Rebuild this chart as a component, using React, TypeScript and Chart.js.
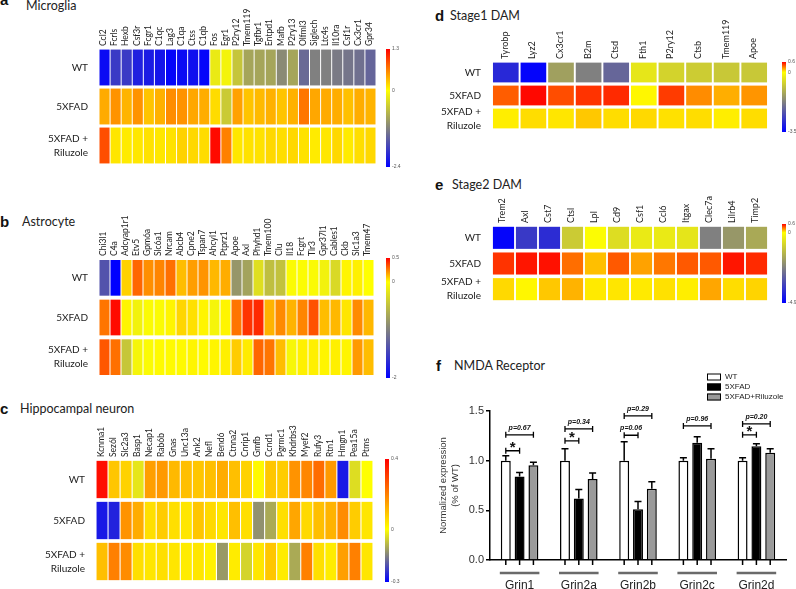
import React, { useEffect, useRef } from 'react';
import { Chart, registerables } from 'chart.js';

Chart.register(...registerables);

// ---------- shared ----------
const ROW_LABELS: (string | string[])[] = ['WT', '5XFAD', ['5XFAD +', 'Riluzole']];

// ---------- a: Microglia ----------
const MG_GENES = ['Ccl2', 'Fcrls', 'Hexb', 'Csf3r', 'Fcgr1', 'C1qc', 'Lag3', 'C1qa', 'Ctss', 'C1qb', 'Fos', 'Egr1', 'P2ry12', 'Tmem119', 'Tgfbr1', 'Entpd1', 'Mafb', 'P2ry13', 'Olfml3', 'Siglech', 'Ltc4s', 'Il10ra', 'Csf1r', 'Cx3cr1', 'Gpr34'];
const MG_WT = [-2.3, -1.85, -1.85, -2.1, -2.15, -2.2, -2.35, -2.3, -2.25, -2.35, -0.2, -0.1, -0.55, -0.85, -0.85, -0.85, -1.1, -0.85, -1.4, -1.2, -1.2, -1.25, -1.3, -1.35, -1.45];
const MG_FAD = [0.43, 0.55, 0.38, 0.55, 0.3, 0.4, 0.58, 0.55, 0.45, 0.42, 0.18, -0.5, 0.48, 0.3, 0.35, 0.4, 0.3, 0.4, 0.7, 0.45, 0.43, 0.42, 0.32, 0.42, 0.38];
const MG_RIL = [0.9, 0.13, 0.1, 0.12, 0.15, 0.12, 0.15, 0.23, 0.2, 0.18, 1.25, 0.65, 0.12, 0.15, 0.15, 0.2, 0.17, 0.2, 0.15, 0.1, 0.12, 0.2, 0.1, 0.17, 0.2];
const MG_RANGE = [-2.4, 1.3];

// ---------- b: Astrocyte ----------
const AS_GENES = ['Chi3l1', 'C4a', 'Adcyap1r1', 'Etv5', 'Gpm6a', 'Slc6a1', 'Nrcam', 'Abcb4', 'Cpne2', 'Tspan7', 'Ahcyl1', 'Ptprz1', 'Apoe', 'Axl', 'Phyhd1', 'Tmem100', 'Clu', 'Il18', 'Fcgrt', 'Tlr3', 'Gpr37l1', 'Cables1', 'Ckb', 'Slc1a3', 'Tmem47'];
const AS_WT = [-1.35, -2.0, 0.09, 0.3, 0.22, 0.24, 0.28, 0.13, 0.19, 0.21, 0.14, 0.16, -0.82, -0.72, -0.25, -0.5, -0.48, -0.03, -0.02, -0.04, -0.1, -0.3, 0.02, 0.03, 0.0];
const AS_FAD = [0.27, 0.48, 0.02, -0.1, -0.03, -0.03, 0.02, 0.08, 0.06, 0.02, -0.08, 0.02, 0.27, 0.4, 0.42, 0.15, 0.23, 0.15, 0.24, 0.34, 0.13, 0.14, 0.05, 0.23, 0.14];
const AS_RIL = [0.33, 0.28, -0.45, -0.08, -0.03, 0.01, 0.01, 0.01, 0.02, 0.01, 0.02, 0.03, 0.1, 0.04, 0.3, 0.27, 0.13, -0.06, 0.03, 0.03, 0.02, 0.03, 0.02, 0.2, 0.13];
const AS_RANGE = [-2, 0.5];

// ---------- c: Hippocampal neuron ----------
const NE_GENES = ['Kcnma1', 'Sez6l', 'Slc2a3', 'Basp1', 'Necap1', 'Rab6b', 'Gnas', 'Unc13a', 'Ank2', 'Nefl', 'Bend6', 'Ctnna2', 'Cnrip1', 'Gmfb', 'Ccnd1', 'Pgrmc1', 'Khdrbs3', 'Myef2', 'Rufy3', 'Rtn1', 'Hmgn1', 'Pea15a', 'Ptms'];
const NE_WT = [0.38, 0.09, 0.07, -0.03, 0.15, 0.16, 0.11, 0.1, 0.09, 0.1, 0.13, 0.1, 0.07, 0.01, 0.09, 0.08, 0.17, 0.19, 0.23, 0.16, -0.27, -0.04, 0.0];
const NE_FAD = [-0.27, -0.26, 0.17, 0.13, 0.05, 0.08, 0.05, 0.04, 0.09, 0.06, 0.04, 0.1, 0.05, -0.13, -0.1, 0.05, 0.14, 0.06, 0.1, 0.12, 0.18, 0.08, 0.04];
const NE_RIL = [0.1, 0.2, 0.18, 0.05, 0.04, 0.05, 0.04, 0.03, 0.04, 0.02, -0.12, 0.03, -0.05, 0.04, 0.09, 0.03, -0.1, 0.2, 0.05, 0.03, 0.15, 0.2, 0.04];
const NE_RANGE = [-0.3, 0.4];

// ---------- d: Stage1 DAM ----------
const S1_GENES = ['Tyrobp', 'Lyz2', 'Cx3cr1', 'B2m', 'Ctsd', 'Fth1', 'P2ry12', 'Ctsb', 'Tmem119', 'Apoe'];
const S1_WT = [-2.95, -3.45, -1.3, -1.75, -2.1, -0.35, -0.6, -0.7, -0.75, -0.75];
const S1_FAD = [0.38, 0.58, 0.42, 0.48, 0.5, 0.02, 0.46, 0.27, 0.19, 0.25];
const S1_RIL = [0.04, 0.08, 0.06, 0.13, 0.08, 0.09, 0.07, 0.08, 0.04, 0.08];
const S1_RANGE = [-3.5, 0.6];

// ---------- e: Stage2 DAM ----------
const S2_GENES = ['Trem2', 'Axl', 'Cst7', 'Ctsl', 'Lpl', 'Cd9', 'Csf1', 'Ccl6', 'Itgax', 'Clec7a', 'Lilrb4', 'Timp2'];
const S2_WT = [-4.8, -3.8, -4.05, -1.0, -0.05, -0.65, -0.4, -0.4, -0.5, -2.45, -2.0, -1.65];
const S2_FAD = [0.48, 0.55, 0.56, 0.34, 0.15, 0.39, 0.22, 0.32, 0.39, 0.39, 0.55, 0.5];
const S2_RIL = [0.09, 0.02, 0.13, 0.18, 0.05, 0.06, 0.05, 0.07, 0.04, 0.21, 0.08, 0.1];
const S2_RANGE = [-4.9, 0.6];

// ---------- f: NMDA Receptor ----------
const GRIN_LABELS = ['Grin1', 'Grin2a', 'Grin2b', 'Grin2c', 'Grin2d'];
const GROUP_NAMES = ['WT', '5XFAD', '5XFAD+Riluzole'];
const WT_MEAN = [1.0, 1.0, 1.0, 1.0, 1.0];
const WT_SEM = [0.05, 0.12, 0.19, 0.03, 0.03];
const FAD_MEAN = [0.84, 0.62, 0.51, 1.18, 1.145];
const FAD_SEM = [0.04, 0.09, 0.08, 0.06, 0.025];
const RIL_MEAN = [0.955, 0.815, 0.717, 1.02, 1.08];
const RIL_SEM = [0.03, 0.06, 0.07, 0.1, 0.04];
// [group index, from bar, to bar, y value, label]
const BRACKETS: [number, number, number, number, string][] = [
  [0, 0, 1, 1.1, '*'], [0, 0, 2, 1.26, 'p=0.67'],
  [1, 0, 1, 1.2, '*'], [1, 0, 2, 1.32, 'p=0.34'],
  [2, 0, 1, 1.256, 'p=0.06'], [2, 0, 2, 1.45, 'p=0.29'],
  [3, 0, 2, 1.35, 'p=0.96'],
  [4, 0, 1, 1.26, '*'], [4, 0, 2, 1.37, 'p=0.20'],
];

// ---------- helpers ----------
function heatColor(v: number, min: number, max: number) {
  if (v >= 0) {
    const t = Math.min(v / max, 1);
    return `rgb(255,${Math.round(255 * (1 - t))},0)`;
  }
  const t = Math.min(v / min, 1);
  const c = Math.round(255 * (1 - t));
  return `rgb(${c},${c},${Math.round(255 * t)})`;
}

function ChartBox({ left, top, width, height, make }: { left: number; top: number; width: number; height: number; make: () => any }) {
  const ref = useRef<HTMLCanvasElement>(null);
  useEffect(() => {
    const chart = new Chart(ref.current as HTMLCanvasElement, make());
    return () => chart.destroy();
  }, []);
  return (
    <canvas
      ref={ref}
      width={width}
      height={height}
      style={{ position: 'absolute', left, top, width, height, display: 'block' }}
    />
  );
}

type HeatOpts = {
  genes: string[]; rows: number[][]; range: number[];
  axisH: number; axisW: number; padR: number; padB: number;
  rowGap: number; colPct: number; geneFont: number;
};

function heatmapConfig(p: HeatOpts) {
  const [min, max] = p.range;
  return {
    type: 'bar',
    data: {
      labels: p.genes,
      datasets: p.rows.map((vals, r) => ({
        label: String(ROW_LABELS[r]),
        data: vals.map(() => [r + p.rowGap, r + 1 - p.rowGap]),
        backgroundColor: vals.map((v) => heatColor(v, min, max)),
        borderWidth: 0,
        grouped: false,
        barPercentage: p.colPct,
        categoryPercentage: 1,
      })),
    },
    options: {
      responsive: false,
      animation: false,
      devicePixelRatio: 1,
      events: [],
      layout: { padding: { left: 0, top: 0, right: p.padR, bottom: p.padB } },
      plugins: { legend: { display: false }, tooltip: { enabled: false } },
      scales: {
        x: {
          position: 'top',
          grid: { display: false, drawTicks: false },
          border: { display: false },
          ticks: {
            autoSkip: false, minRotation: 90, maxRotation: 90, padding: 2,
            labelOffset: p.geneFont * 1.2 - 1,
            color: '#222', font: { family: 'Lato', size: p.geneFont },
          },
          afterFit: (s: any) => { s.height = p.axisH; s.paddingLeft = 0; s.paddingRight = 0; },
        },
        y: {
          min: 0, max: 3, reverse: true,
          grid: { display: false, drawTicks: false },
          border: { display: false },
          afterBuildTicks: (s: any) => { s.ticks = [0.5, 1.5, 2.5].map((v) => ({ value: v })); },
          ticks: {
            padding: 11, color: '#222',
            font: { family: 'Lato', size: 10, lineHeight: 1.4 },
            callback: (v: any) => ROW_LABELS[Math.floor(Number(v))],
          },
          afterFit: (s: any) => { s.width = p.axisW; s.paddingTop = 0; s.paddingBottom = 0; },
        },
      },
    },
  };
}

function colorbarConfig(range: number[], padT: number, padB: number) {
  const [min, max] = range;
  const zeroFrac = -min / (max - min);
  return {
    type: 'bar',
    data: {
      labels: [''],
      datasets: [{
        data: [[min, max]],
        backgroundColor: (ctx: any) => {
          const area = ctx.chart.chartArea;
          if (!area) return '#ff0';
          const g = ctx.chart.ctx.createLinearGradient(0, area.bottom, 0, area.top);
          g.addColorStop(0, 'rgb(0,0,255)');
          g.addColorStop(zeroFrac / 2, 'rgb(128,128,128)');
          g.addColorStop(zeroFrac, 'rgb(255,255,0)');
          g.addColorStop(1, 'rgb(255,0,0)');
          return g;
        },
        borderWidth: 0, barPercentage: 1, categoryPercentage: 1,
      }],
    },
    options: {
      responsive: false, animation: false, devicePixelRatio: 1, events: [],
      layout: { padding: { left: 0, top: padT, right: 0, bottom: padB } },
      plugins: { legend: { display: false }, tooltip: { enabled: false } },
      scales: {
        x: { display: false },
        y: {
          position: 'right', min, max,
          grid: { display: false, drawTicks: false },
          border: { display: false },
          afterBuildTicks: (s: any) => { s.ticks = [min, 0, max].map((v) => ({ value: v })); },
          ticks: { padding: 2, color: '#555', font: { family: 'Liberation Sans', size: 5 }, callback: (v: any) => String(v) },
          afterFit: (s: any) => { s.width = 12; s.paddingTop = 0; s.paddingBottom = 0; },
        },
      },
    },
  };
}

const nmdaPlugin = {
  id: 'nmdaExtras',
  afterDatasetsDraw(chart: any) {
    const ctx = chart.ctx;
    const area = chart.chartArea;
    const y = chart.scales.y;
    const sems = [WT_SEM, FAD_SEM, RIL_SEM];
    const metas = [0, 1, 2].map((i) => chart.getDatasetMeta(i));
    ctx.save();
    ctx.strokeStyle = '#000';
    ctx.lineWidth = 1.5;
    metas.forEach((m: any, d: number) => {
      m.data.forEach((bar: any, i: number) => {
        const mean = chart.data.datasets[d].data[i];
        const top = y.getPixelForValue(mean + sems[d][i]);
        ctx.beginPath();
        ctx.moveTo(bar.x, bar.y);
        ctx.lineTo(bar.x, top);
        ctx.moveTo(bar.x - 3.5, top);
        ctx.lineTo(bar.x + 3.5, top);
        ctx.moveTo(bar.x, area.bottom);
        ctx.lineTo(bar.x, area.bottom + 5);
        ctx.stroke();
      });
    });
    // group underlines
    ctx.strokeStyle = '#6a6a6a';
    ctx.lineWidth = 2.5;
    GRIN_LABELS.forEach((_, i) => {
      const a = metas[0].data[i];
      const b = metas[2].data[i];
      ctx.beginPath();
      ctx.moveTo(a.x - a.width / 2 - 1, area.bottom + 13);
      ctx.lineTo(b.x + b.width / 2 + 1, area.bottom + 13);
      ctx.stroke();
    });
    // significance brackets
    ctx.strokeStyle = '#000';
    ctx.lineWidth = 1.3;
    ctx.fillStyle = '#111';
    ctx.textAlign = 'center';
    BRACKETS.forEach(([g, from, to, val, label]) => {
      const x1 = metas[from].data[g].x;
      const x2 = metas[to].data[g].x;
      const yy = y.getPixelForValue(val);
      ctx.beginPath();
      ctx.moveTo(x1, yy); ctx.lineTo(x2, yy);
      ctx.moveTo(x1, yy - 3); ctx.lineTo(x1, yy + 3);
      ctx.moveTo(x2, yy - 3); ctx.lineTo(x2, yy + 3);
      ctx.stroke();
      if (label === '*') {
        ctx.font = 'bold 15px "Liberation Sans"';
        ctx.textBaseline = 'middle';
        ctx.fillText('*', (x1 + x2) / 2, yy - 3);
      } else {
        ctx.font = 'italic bold 7px "Liberation Sans"';
        ctx.textBaseline = 'middle';
        ctx.fillText(label, (x1 + x2) / 2, yy - 7);
      }
    });
    // legend
    const lx = area.right - 79;
    const ly = area.top - 34;
    ctx.textAlign = 'left';
    ctx.textBaseline = 'middle';
    ctx.font = '8px "Liberation Sans"';
    chart.data.datasets.forEach((ds: any, i: number) => {
      const cy = ly + i * 10;
      ctx.fillStyle = ds.backgroundColor;
      ctx.fillRect(lx, cy - 3.5, 14, 7);
      ctx.lineWidth = 1;
      ctx.strokeStyle = '#000';
      ctx.strokeRect(lx + 0.5, cy - 3, 13, 6);
      ctx.fillStyle = '#222';
      ctx.fillText(ds.label, lx + 18, cy);
    });
    ctx.restore();
  },
};

function nmdaConfig() {
  const colors = ['#ffffff', '#000000', '#9a9a9a'];
  const means = [WT_MEAN, FAD_MEAN, RIL_MEAN];
  return {
    type: 'bar',
    data: {
      labels: GRIN_LABELS,
      datasets: GROUP_NAMES.map((name, i) => ({
        label: name,
        data: means[i],
        backgroundColor: colors[i],
        borderColor: '#000',
        borderWidth: 1.5,
        categoryPercentage: 0.7,
        barPercentage: 0.72,
      })),
    },
    options: {
      responsive: false, animation: false, devicePixelRatio: 1, events: [],
      layout: { padding: { left: 29, top: 111, right: 10, bottom: 0 } },
      plugins: { legend: { display: false }, tooltip: { enabled: false } },
      scales: {
        x: {
          grid: { display: false, drawTicks: false },
          border: { display: true, color: '#000', width: 1.5 },
          ticks: { padding: 18, color: '#222', font: { family: 'Liberation Sans', size: 12 } },
          afterFit: (s: any) => { s.height = 35; s.paddingLeft = 0; s.paddingRight = 0; },
        },
        y: {
          min: 0, max: 1.5,
          ticks: {
            stepSize: 0.5, padding: 2, color: '#333',
            font: { family: 'Liberation Sans', size: 11 },
            callback: (v: any) => Number(v).toFixed(1),
          },
          grid: { drawOnChartArea: false, drawTicks: true, tickLength: 4, color: '#000', lineWidth: 1.5 },
          border: { display: true, color: '#000', width: 1.5 },
          title: {
            display: true,
            text: ['Normalized expression', '(% of WT)'],
            color: '#333',
            font: { family: 'Liberation Sans', size: 9.5, lineHeight: 1.26 },
            padding: { top: 8, bottom: 0 },
          },
          afterFit: (s: any) => { s.width = 61; s.paddingTop = 0; s.paddingBottom = 0; },
        },
      },
    },
    plugins: [nmdaPlugin],
  };
}

function Heading({ letter, text, x, tx, base, lbase }: { letter: string; text: string; x: number; tx: number; base: number; lbase?: number }) {
  const lb = lbase === undefined ? base : lbase;
  return (
    <>
      <div style={{ position: 'absolute', left: x, top: lb - 13, lineHeight: '16px', fontFamily: '"Liberation Sans", Arial, sans-serif', fontWeight: 'bold', fontSize: 15, color: '#111', whiteSpace: 'nowrap' }}>{letter}</div>
      <div style={{ position: 'absolute', left: tx, top: base - 13, lineHeight: '16px', fontFamily: 'Lato, sans-serif', fontSize: 12.5, color: '#222', whiteSpace: 'nowrap' }}>{text}</div>
    </>
  );
}

export default function App() {
  return (
    <div style={{ position: 'fixed', left: 0, top: 0, width: 796, height: 589, overflow: 'hidden', background: '#fff' }}>
      <Heading letter="a" text="Microglia" x={0} tx={26} base={11} lbase={5} />
      <Heading letter="b" text="Astrocyte" x={0} tx={22} base={227} />
      <Heading letter="c" text="Hippocampal neuron" x={0} tx={20} base={414} />
      <Heading letter="d" text="Stage1 DAM" x={435} tx={450} base={21} />
      <Heading letter="e" text="Stage2 DAM" x={435} tx={452} base={190} />
      <Heading letter="f" text="NMDA Receptor" x={436} tx={454} base={371} />

      <ChartBox left={0} top={0} width={400} height={175} make={() => heatmapConfig({ genes: MG_GENES, rows: [MG_WT, MG_FAD, MG_RIL], range: MG_RANGE, axisH: 48, axisW: 99, padR: 24, padB: 10, rowGap: 0.04, colPct: 0.91, geneFont: 8.5 })} />
      <ChartBox left={386} top={44} width={16} height={128} make={() => colorbarConfig(MG_RANGE, 5, 5)} />

      <ChartBox left={0} top={185} width={400} height={200} make={() => heatmapConfig({ genes: AS_GENES, rows: [AS_WT, AS_FAD, AS_RIL], range: AS_RANGE, axisH: 73, axisW: 99, padR: 26, padB: 8, rowGap: 0.05, colPct: 0.91, geneFont: 8.5 })} />
      <ChartBox left={386} top={253} width={16} height={130} make={() => colorbarConfig(AS_RANGE, 5, 5)} />

      <ChartBox left={0} top={400} width={400} height={189} make={() => heatmapConfig({ genes: NE_GENES, rows: [NE_WT, NE_FAD, NE_RIL], range: NE_RANGE, axisH: 59, axisW: 96, padR: 27, padB: 7, rowGap: 0.045, colPct: 0.91, geneFont: 8.5 })} />
      <ChartBox left={385} top={454} width={16} height={133} make={() => colorbarConfig(NE_RANGE, 5, 5)} />

      <ChartBox left={400} top={0} width={396} height={140} make={() => heatmapConfig({ genes: S1_GENES, rows: [S1_WT, S1_FAD, S1_RIL], range: S1_RANGE, axisH: 61, axisW: 92, padR: 28, padB: 10, rowGap: 0.07, colPct: 0.93, geneFont: 9 })} />
      <ChartBox left={782} top={57} width={16} height={80} make={() => colorbarConfig(S1_RANGE, 5, 5)} />

      <ChartBox left={400} top={140} width={396} height={170} make={() => heatmapConfig({ genes: S2_GENES, rows: [S2_WT, S2_FAD, S2_RIL], range: S2_RANGE, axisH: 85, axisW: 92, padR: 28, padB: 8, rowGap: 0.07, colPct: 0.92, geneFont: 9 })} />
      <ChartBox left={782} top={219} width={16} height={89} make={() => colorbarConfig(S2_RANGE, 5, 5)} />

      <ChartBox left={400} top={300} width={396} height={295} make={nmdaConfig} />
    </div>
  );
}
